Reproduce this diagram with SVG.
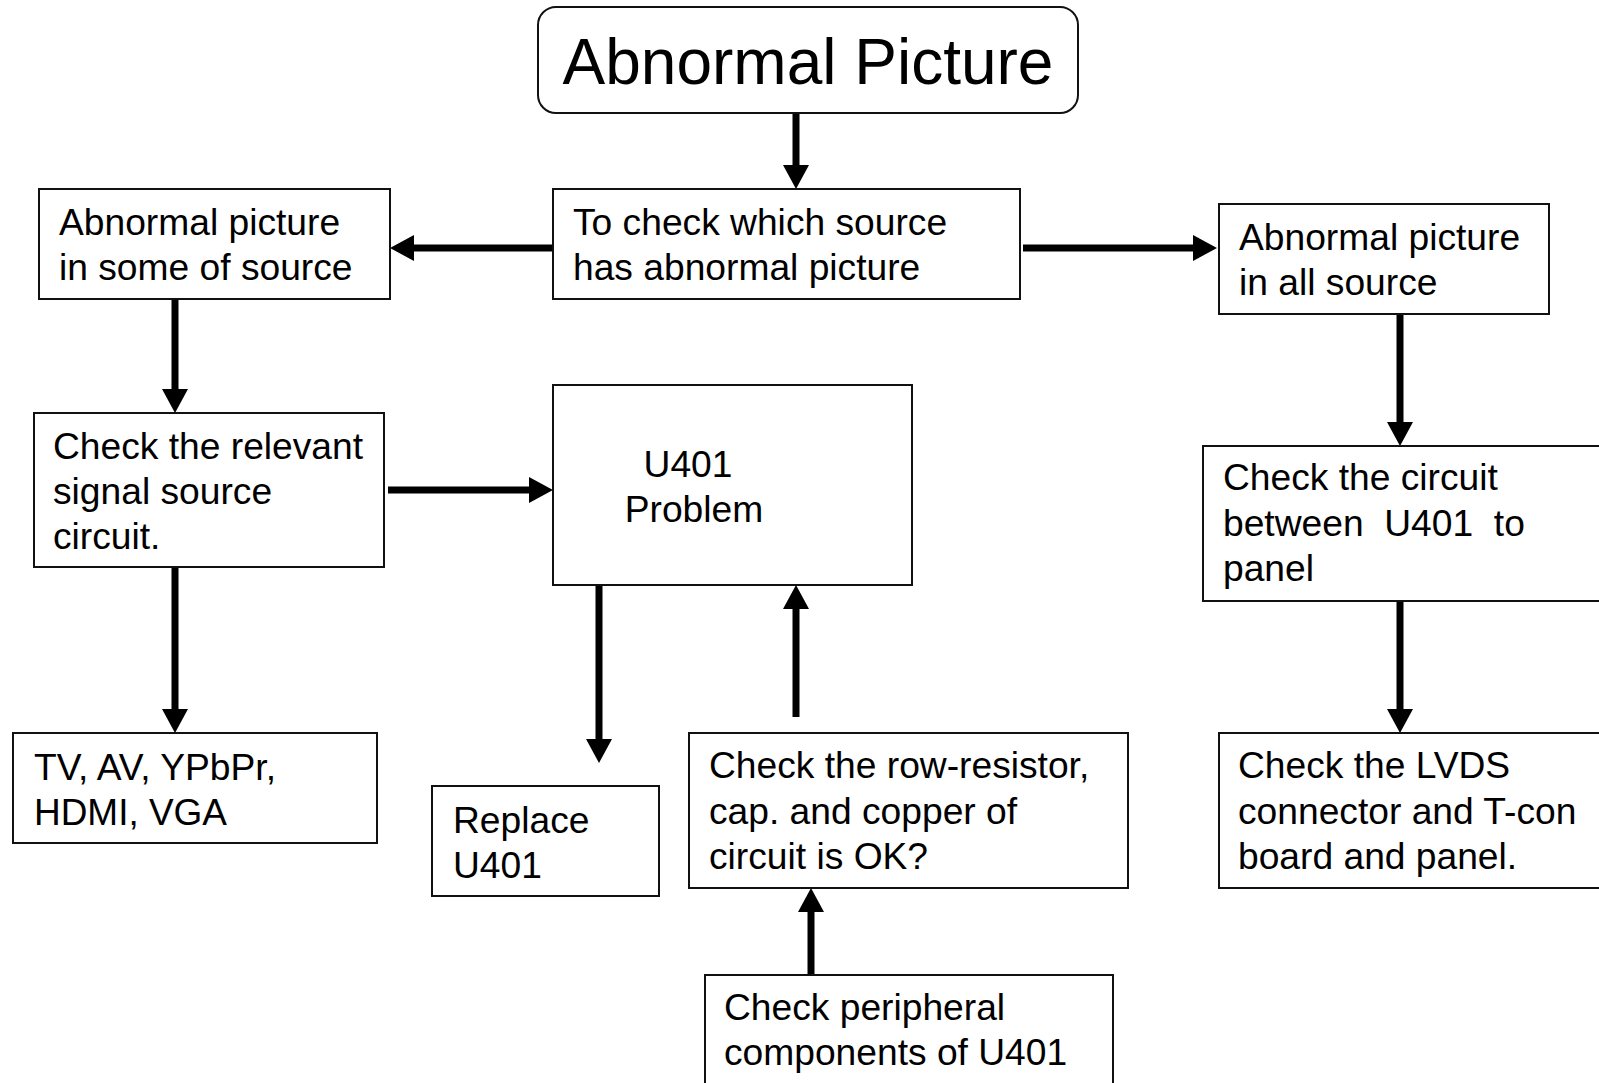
<svg xmlns="http://www.w3.org/2000/svg" width="1599" height="1083" viewBox="0 0 1599 1083">
  <style>
    .box { fill: #ffffff; stroke: #111111; stroke-width: 2; }
    .txt { font-family: "Liberation Sans", Arial, sans-serif; font-size: 37.2px; fill: #000000; }
    .title { font-family: "Liberation Sans", Arial, sans-serif; font-size: 64px; fill: #000000; }
    .arrow { stroke: #000000; stroke-width: 7; fill: none; marker-end: url(#head); }
  </style>
  <defs>
    <marker id="head" markerUnits="userSpaceOnUse" markerWidth="24" markerHeight="26" refX="0" refY="13" orient="auto">
      <path d="M0,0 L24,13 L0,26 z" fill="#000000"/>
    </marker>
  </defs>
  <rect width="1599" height="1083" fill="#ffffff"/>

  <!-- connectors: each line stops at the base of its arrowhead -->
  <g id="connectors">
    <line class="arrow" x1="796" y1="113" x2="796" y2="165"/>
    <line class="arrow" x1="553" y1="248" x2="414" y2="248"/>
    <line class="arrow" x1="1023" y1="248" x2="1193" y2="248"/>
    <line class="arrow" x1="175" y1="295" x2="175" y2="389"/>
    <line class="arrow" x1="388" y1="490" x2="529" y2="490"/>
    <line class="arrow" x1="175" y1="567" x2="175" y2="709"/>
    <line class="arrow" x1="599" y1="581" x2="599" y2="739"/>
    <line class="arrow" x1="796" y1="717" x2="796" y2="609"/>
    <line class="arrow" x1="811" y1="975" x2="811" y2="912"/>
    <line class="arrow" x1="1400" y1="311" x2="1400" y2="422"/>
    <line class="arrow" x1="1400" y1="597" x2="1400" y2="709"/>
  </g>

  <g id="abnormal-picture">
    <rect class="box" x="538" y="7" width="540" height="106" rx="18" ry="18"/>
    <text class="title" x="808" y="84" text-anchor="middle">Abnormal Picture</text>
  </g>

  <g id="check-source">
    <rect class="box" x="553" y="189" width="467" height="110"/>
    <text class="txt" x="573" y="235">To check which source</text>
    <text class="txt" x="573" y="280">has abnormal picture</text>
  </g>

  <g id="some-source">
    <rect class="box" x="39" y="189" width="351" height="110"/>
    <text class="txt" x="59" y="235">Abnormal picture</text>
    <text class="txt" x="59" y="280">in some of source</text>
  </g>

  <g id="all-source">
    <rect class="box" x="1219" y="204" width="330" height="110"/>
    <text class="txt" x="1239" y="250">Abnormal picture</text>
    <text class="txt" x="1239" y="295">in all source</text>
  </g>

  <g id="signal-circuit">
    <rect class="box" x="34" y="413" width="350" height="154"/>
    <text class="txt" x="53" y="459">Check the relevant</text>
    <text class="txt" x="53" y="504">signal source</text>
    <text class="txt" x="53" y="549">circuit.</text>
  </g>

  <g id="u401-problem">
    <rect class="box" x="553" y="385" width="359" height="200"/>
    <text class="txt" x="688" y="477" text-anchor="middle">U401</text>
    <text class="txt" x="694" y="522" text-anchor="middle">Problem</text>
  </g>

  <g id="circuit-to-panel">
    <rect class="box" x="1203" y="446" width="410" height="155"/>
    <text class="txt" x="1223" y="490">Check the circuit</text>
    <text class="txt" x="1223" y="536" xml:space="preserve">between  U401  to</text>
    <text class="txt" x="1223" y="581">panel</text>
  </g>

  <g id="sources-list">
    <rect class="box" x="13" y="733" width="364" height="110"/>
    <text class="txt" x="34" y="780" textLength="242" lengthAdjust="spacingAndGlyphs">TV, AV, YPbPr,</text>
    <text class="txt" x="34" y="825" textLength="193" lengthAdjust="spacingAndGlyphs">HDMI, VGA</text>
  </g>

  <g id="replace-u401">
    <rect class="box" x="432" y="786" width="227" height="110"/>
    <text class="txt" x="453" y="833">Replace</text>
    <text class="txt" x="453" y="878">U401</text>
  </g>

  <g id="row-resistor">
    <rect class="box" x="689" y="733" width="439" height="155"/>
    <text class="txt" x="709" y="778">Check the row-resistor,</text>
    <text class="txt" x="709" y="824">cap. and copper of</text>
    <text class="txt" x="709" y="869">circuit is OK?</text>
  </g>

  <g id="peripheral">
    <rect class="box" x="705" y="975" width="408" height="120"/>
    <text class="txt" x="724" y="1020">Check peripheral</text>
    <text class="txt" x="724" y="1065">components of U401</text>
  </g>

  <g id="lvds">
    <rect class="box" x="1219" y="733" width="400" height="155"/>
    <text class="txt" x="1238" y="778">Check the LVDS</text>
    <text class="txt" x="1238" y="824">connector and T-con</text>
    <text class="txt" x="1238" y="869">board and panel.</text>
  </g>
</svg>
